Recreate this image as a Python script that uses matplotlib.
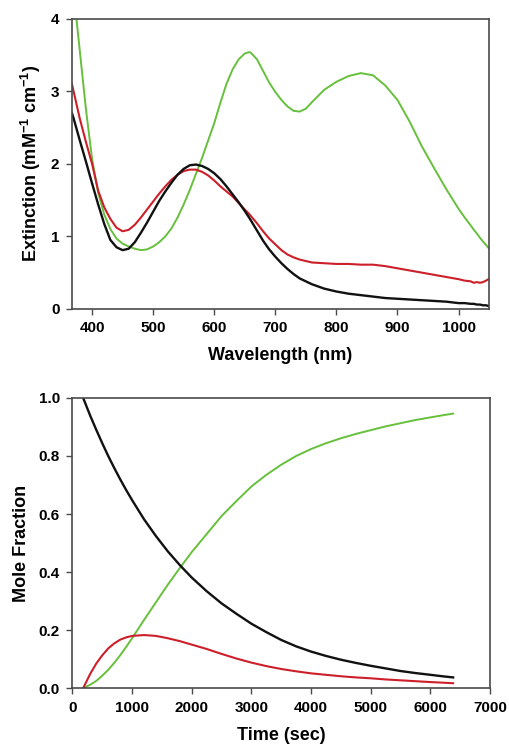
import matplotlib
matplotlib.use("Agg")
import matplotlib.pyplot as plt

plt.rcParams['font.family'] = ['Liberation Sans', 'DejaVu Sans']
plt.rcParams['font.weight'] = 'bold'
plt.rcParams['mathtext.fontset'] = 'custom'
plt.rcParams['mathtext.rm'] = 'Liberation Sans:bold'
plt.rcParams['mathtext.bf'] = 'Liberation Sans:bold'
plt.rcParams['mathtext.default'] = 'bf'

# ---------------- Top panel data (extinction spectra) ----------------
wavelength = [367, 370, 380, 390, 400, 410, 420, 430, 440, 450, 460, 470, 480, 490,
              500, 510, 520, 530, 540, 550, 560, 570, 580, 590, 600, 610, 620, 630,
              640, 650, 657, 660, 670, 680, 690, 700, 710, 720, 730, 740, 750, 760,
              780, 800, 820, 840, 860, 880, 900, 920, 940, 960, 980, 1000, 1010,
              1020, 1025, 1030, 1035, 1040, 1045, 1049]
ext_black = [2.70, 2.62, 2.32, 2.03, 1.73, 1.44, 1.17, 0.95, 0.85, 0.81, 0.83, 0.92,
             1.05, 1.19, 1.34, 1.49, 1.62, 1.74, 1.85, 1.93, 1.98, 1.99, 1.97, 1.93,
             1.87, 1.79, 1.69, 1.58, 1.47, 1.35, 1.26, 1.22, 1.08, 0.94, 0.82, 0.72,
             0.63, 0.55, 0.48, 0.42, 0.38, 0.34, 0.28, 0.24, 0.21, 0.19, 0.17, 0.15,
             0.14, 0.13, 0.12, 0.11, 0.10, 0.08, 0.08, 0.07, 0.07, 0.06, 0.06, 0.05,
             0.05, 0.04]
ext_red = [3.10, 2.99, 2.62, 2.30, 2.00, 1.63, 1.40, 1.24, 1.12, 1.07, 1.09, 1.16,
           1.26, 1.37, 1.48, 1.59, 1.69, 1.78, 1.85, 1.90, 1.92, 1.92, 1.89, 1.84,
           1.77, 1.69, 1.62, 1.55, 1.46, 1.37, 1.31, 1.28, 1.18, 1.07, 0.97, 0.89,
           0.81, 0.75, 0.71, 0.68, 0.66, 0.64, 0.63, 0.62, 0.62, 0.61, 0.61, 0.59,
           0.56, 0.53, 0.50, 0.47, 0.44, 0.41, 0.39, 0.38, 0.36, 0.37, 0.36, 0.37,
           0.39, 0.41]
ext_green = [4.60, 4.35, 3.55, 2.75, 2.07, 1.60, 1.30, 1.10, 0.97, 0.90, 0.86, 0.83,
             0.81, 0.82, 0.86, 0.92, 1.00, 1.11, 1.26, 1.44, 1.64, 1.86, 2.08, 2.32,
             2.56, 2.84, 3.10, 3.30, 3.44, 3.52, 3.54, 3.53, 3.44, 3.28, 3.12, 2.99,
             2.88, 2.79, 2.73, 2.72, 2.76, 2.85, 3.02, 3.13, 3.21, 3.25, 3.22, 3.08,
             2.88, 2.58, 2.24, 1.94, 1.65, 1.38, 1.26, 1.15, 1.09, 1.04, 0.98, 0.93,
             0.88, 0.84]

# ---------------- Bottom panel data (mole fractions) ----------------
time_s = [180, 300, 400, 500, 600, 700, 800, 900, 1000, 1200, 1400, 1600, 1800,
          2000, 2250, 2500, 2750, 3000, 3250, 3500, 3750, 4000, 4250, 4500, 4750,
          5000, 5250, 5500, 5750, 6000, 6200, 6380]
frac_black = [1.000, 0.938, 0.890, 0.844, 0.800, 0.759, 0.720, 0.683, 0.648, 0.582,
              0.524, 0.471, 0.424, 0.381, 0.334, 0.292, 0.256, 0.222, 0.193, 0.166,
              0.144, 0.126, 0.111, 0.098, 0.087, 0.077, 0.068, 0.059, 0.052, 0.046,
              0.041, 0.037]
frac_red = [0.000, 0.050, 0.085, 0.113, 0.137, 0.154, 0.167, 0.175, 0.180, 0.183,
            0.180, 0.172, 0.162, 0.150, 0.135, 0.118, 0.102, 0.088, 0.076, 0.066,
            0.058, 0.051, 0.046, 0.041, 0.037, 0.034, 0.030, 0.027, 0.024, 0.021,
            0.019, 0.017]
frac_green = [0.000, 0.012, 0.025, 0.043, 0.063, 0.087, 0.113, 0.142, 0.172, 0.235,
              0.296, 0.357, 0.414, 0.469, 0.531, 0.593, 0.645, 0.695, 0.735, 0.770,
              0.800, 0.824, 0.844, 0.861, 0.876, 0.889, 0.902, 0.913, 0.924, 0.933,
              0.940, 0.946]

top_xticks = [400, 500, 600, 700, 800, 900, 1000]
top_yticks = [0, 1, 2, 3, 4]
bot_xticks = [0, 1000, 2000, 3000, 4000, 5000, 6000, 7000]
bot_yticks = [0.0, 0.2, 0.4, 0.6, 0.8, 1.0]

C_BLACK = '#111111'
C_RED = '#cc1f2a'
C_GREEN = '#66c03c'
SPINE = '#4a4a4a'

fig = plt.figure(figsize=(5.10, 7.48), dpi=100)
ax1 = fig.add_axes([0.141, 0.587, 0.818, 0.388])
ax2 = fig.add_axes([0.142, 0.080, 0.819, 0.388])


def style(ax):
    for s in ax.spines.values():
        s.set_color(SPINE)
        s.set_linewidth(1.2)
    ax.tick_params(direction='out', length=4, width=1.0, color=SPINE,
                   labelsize=11, pad=5, top=False, right=False)
    for lab in ax.get_xticklabels() + ax.get_yticklabels():
        lab.set_fontweight('bold')


ax1.plot(wavelength, ext_green, color=C_GREEN, lw=1.4)
ax1.plot(wavelength, ext_red, color=C_RED, lw=1.5)
ax1.plot(wavelength, ext_black, color=C_BLACK, lw=1.7)
ax1.set_xlim(367, 1050)
ax1.set_ylim(0, 4)
ax1.set_xticks(top_xticks)
ax1.set_yticks(top_yticks)
ax1.set_xlabel('Wavelength (nm)', fontsize=13, fontweight='bold', labelpad=8)
ax1.set_ylabel('Extinction (mM$^{-1}$ cm$^{-1}$)', fontsize=13, fontweight='bold',
               labelpad=6)
style(ax1)

ax2.plot(time_s, frac_green, color=C_GREEN, lw=1.4)
ax2.plot(time_s, frac_red, color=C_RED, lw=1.5)
ax2.plot(time_s, frac_black, color=C_BLACK, lw=1.7)
ax2.set_xlim(0, 7000)
ax2.set_ylim(0, 1.0)
ax2.set_xticks(bot_xticks)
ax2.set_yticks(bot_yticks)
ax2.set_yticklabels([f'{v:.1f}' for v in bot_yticks])
ax2.set_xlabel('Time (sec)', fontsize=13, fontweight='bold', labelpad=9)
ax2.set_ylabel('Mole Fraction', fontsize=13, fontweight='bold', labelpad=6)
style(ax2)

fig.savefig('out.png', dpi=100)
